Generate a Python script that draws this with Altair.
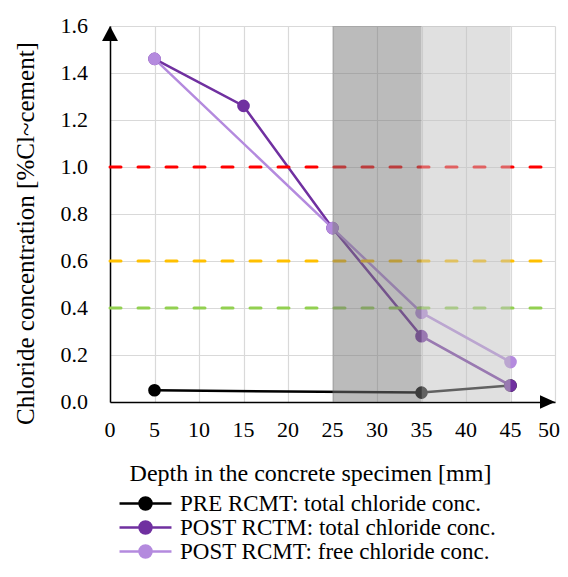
import altair as alt
import pandas as pd

# ---- data ----
series_names = [
    "PRE RCMT: total chloride conc.",
    "POST RCTM: total chloride conc.",
    "POST RCMT: free chloride conc.",
]
series_colors = ["#000000", "#7030a0", "#b48ade"]

pre_depth = [5, 35, 45]
pre_value = [0.05, 0.04, 0.07]
post_total_depth = [5, 15, 25, 35, 45]
post_total_value = [1.46, 1.26, 0.74, 0.28, 0.07]
post_free_depth = [5, 25, 35, 45]
post_free_value = [1.46, 0.74, 0.38, 0.17]

threshold_values = [1.0, 0.6, 0.4]
threshold_colors = ["#ff0000", "#ffc000", "#92d050"]
threshold_start = 0
threshold_end = 48.7

band_start = [25, 35]
band_end = [35, 45]
band_colors = ["#777777", "#c2c2c2"]

x_ticks = [0, 5, 10, 15, 20, 25, 30, 35, 40, 45, 50]
x_tick_labels = ["0", "5", "10", "15", "20", "25", "30", "35", "40", "45", "50"]
y_ticks = [0.0, 0.2, 0.4, 0.6, 0.8, 1.0, 1.2, 1.4, 1.6]
y_tick_labels = ["0.0", "0.2", "0.4", "0.6", "0.8", "1.0", "1.2", "1.4", "1.6"]
x_max = 50
y_max = 1.6

FONT = "Liberation Serif"

rows = []
for name, xs, ys in [
    (series_names[0], pre_depth, pre_value),
    (series_names[1], post_total_depth, post_total_value),
    (series_names[2], post_free_depth, post_free_value),
]:
    for i, (xv, yv) in enumerate(zip(xs, ys)):
        rows.append({"series": name, "depth": xv, "conc": yv, "order": i})
df = pd.DataFrame(rows)

thr = pd.DataFrame({
    "y": threshold_values,
    "color": threshold_colors,
    "x0": [threshold_start] * 3,
    "x1": [threshold_end] * 3,
})
bands = pd.DataFrame({
    "x0": band_start, "x1": band_end, "color": band_colors,
    "y0": [0, 0], "y1": [y_max, y_max],
})
arrows = pd.DataFrame({
    "x": [0, x_max], "y": [y_max, 0],
    "shape": ["M0,0L-0.53,1L0.53,1Z", "M0,0L-1,-0.45L-1,0.45Z"],
})
xlab = pd.DataFrame({"v": x_ticks, "t": x_tick_labels, "y0": [0] * len(x_ticks)})
xlab_inner = xlab[xlab["v"] < x_max]
xlab_last = xlab[xlab["v"] == x_max]
ylab = pd.DataFrame({"v": y_ticks, "t": y_tick_labels, "x0": [0] * len(y_ticks)})

xscale = alt.Scale(domain=[0, x_max], nice=False, zero=False)
yscale = alt.Scale(domain=[0, y_max], nice=False)
cscale = alt.Scale(domain=series_names, range=series_colors)

x_axis = alt.Axis(
    values=x_ticks, ticks=False, labels=False,
    grid=True, gridColor="#d9d9d9", gridWidth=1.2,
    domainColor="black", domainWidth=1.5,
    title="Depth in the concrete specimen [mm]",
    titleFont=FONT, titleFontSize=24, titleFontWeight="normal", titleColor="black",
    titleX=200, titleY=78, titleAlign="center", titleBaseline="alphabetic",
)
y_axis = alt.Axis(
    values=y_ticks, ticks=False, labels=False,
    grid=True, gridColor="#d9d9d9", gridWidth=1.2,
    domainColor="black", domainWidth=1.5,
    title="Chloride concentration [%Cl~cement]",
    titleFont=FONT, titleFontSize=25, titleFontWeight="normal", titleColor="black",
    titleX=-77, titleY=207, titleBaseline="alphabetic",
)

# legend symbol: a short line with a dot in the middle
LEG_PATH = ("M-4.33,0H4.33M1,0A1,1,0,1,1,-1,0A1,1,0,1,1,1,0Z")

legend = alt.Legend(
    orient="none", legendX=24, legendY=466, title=None, direction="vertical",
    padding=0,
    symbolType=LEG_PATH, symbolSize=144, symbolStrokeWidth=2.5,
    symbolOpacity=1, symbolOffset=0,
    labelFont=FONT, labelFontSize=23, labelColor="black", labelLimit=500,
    labelOffset=23, rowPadding=-1,
)

X = alt.X("depth:Q", scale=xscale, axis=x_axis)
Y = alt.Y("conc:Q", scale=yscale, axis=y_axis)

base = alt.Chart(df)
lines = base.mark_line(strokeWidth=2.5).encode(
    x=X, y=Y,
    stroke=alt.Stroke("series:N", scale=cscale, legend=legend,
                      sort=series_names),
    order="order:Q",
)
points = base.mark_point(filled=True, size=160, opacity=1, strokeWidth=0).encode(
    x=X, y=Y,
    fill=alt.Fill("series:N", scale=cscale, legend=legend, sort=series_names),
    stroke=alt.Stroke("series:N", scale=cscale, legend=legend,
                      sort=series_names),
)
rules = alt.Chart(thr).mark_rule(
    strokeWidth=3, strokeDash=[11, 17], strokeCap="round"
).encode(
    x=alt.X("x0:Q", scale=xscale, axis=x_axis), x2="x1:Q",
    y=alt.Y("y:Q", scale=yscale, axis=y_axis),
    color=alt.Color("color:N", scale=None),
)
rects = alt.Chart(bands).mark_rect(opacity=0.5).encode(
    x=alt.X("x0:Q", scale=xscale, axis=x_axis), x2="x1:Q",
    y=alt.Y("y0:Q", scale=yscale, axis=y_axis), y2="y1:Q",
    color=alt.Color("color:N", scale=None),
)
arrow_marks = alt.Chart(arrows).mark_point(
    filled=True, opacity=1, color="black", size=900, strokeWidth=0
).encode(
    x=alt.X("x:Q", scale=xscale, axis=x_axis),
    y=alt.Y("y:Q", scale=yscale, axis=y_axis),
    shape=alt.Shape("shape:N", scale=None),
)
x_labels = alt.Chart(xlab_inner).mark_text(
    font=FONT, fontSize=22, color="black", baseline="alphabetic", dy=35
).encode(
    x=alt.X("v:Q", scale=xscale, axis=x_axis),
    y=alt.Y("y0:Q", scale=yscale, axis=y_axis),
    text="t:N",
)
x_label_last = alt.Chart(xlab_last).mark_text(
    font=FONT, fontSize=22, color="black", baseline="alphabetic", dy=35,
    align="right", dx=5,
).encode(
    x=alt.X("v:Q", scale=xscale, axis=x_axis),
    y=alt.Y("y0:Q", scale=yscale, axis=y_axis),
    text="t:N",
)
y_labels = alt.Chart(ylab).mark_text(
    font=FONT, fontSize=22, color="black", baseline="middle", align="right",
    dx=-22,
).encode(
    x=alt.X("x0:Q", scale=xscale, axis=x_axis),
    y=alt.Y("v:Q", scale=yscale, axis=y_axis),
    text="t:N",
)

chart = alt.layer(
    lines, points, rules, rects, arrow_marks, x_labels, x_label_last, y_labels
).properties(
    width=445, height=376,
    autosize=alt.AutoSizeParams(type="none"),
    padding={"left": 102, "top": 18, "right": 5, "bottom": 159},
).configure(background="white", font=FONT).configure_view(stroke=None)

chart.save("out.html", embed_options={"renderer": "svg", "actions": False})
